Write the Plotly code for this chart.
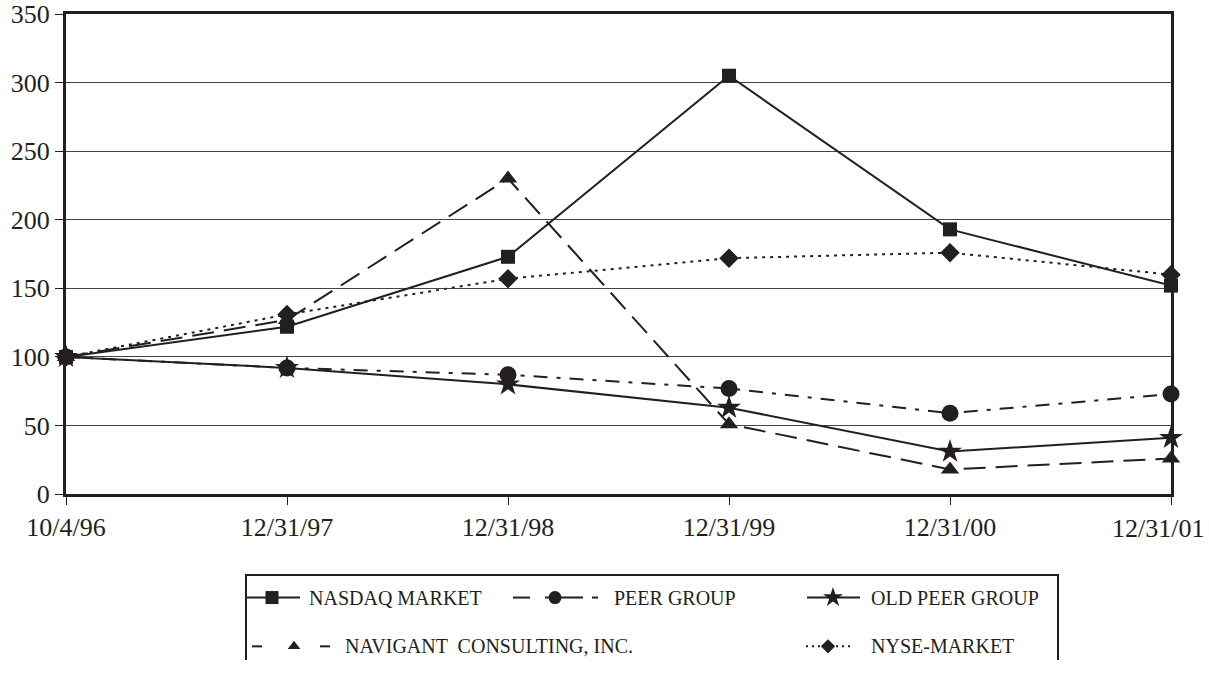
import plotly.graph_objects as go

dates = ["10/4/96", "12/31/97", "12/31/98", "12/31/99", "12/31/00", "12/31/01"]
nasdaq = [100, 122, 173, 305, 193, 152]
peer = [100, 92, 87, 77, 59, 73]
old_peer = [100, 92, 80, 63, 31, 41]
navigant = [100, 127, 230, 51, 18, 26]
nyse = [100, 131, 157, 172, 176, 160]

xs = list(range(len(dates)))
# the last label is drawn separately, nudged left to stay inside the page as in the reference
tick_text = dates[:-1] + [""]
FONT = "Liberation Serif"
INK = "#231f20"

fig = go.Figure()

series = [
    ("NASDAQ MARKET", nasdaq, "solid", "square", 14),
    ("PEER GROUP", peer, "14px,9px,4px,9px", "circle", 17),
    ("OLD PEER GROUP", old_peer, "solid", "star", 18),
    ("NAVIGANT  CONSULTING, INC.", navigant, "22px,10px", "triangle-up", 16),
    ("NYSE-MARKET", nyse, "3px,5px", "diamond", 15),
]
for name, vals, dash, sym, size in series:
    fig.add_trace(go.Scatter(
        x=xs, y=vals, mode="lines+markers", name=name,
        line=dict(color=INK, width=2, dash=dash),
        marker=dict(symbol=sym, size=size, color=INK),
        cliponaxis=False, showlegend=False, xaxis="x", yaxis="y"))

fig.add_annotation(x=1.0, y=(675 - 540) / 662, xref="paper", yref="paper", text=dates[-1],
                   showarrow=False, xanchor="right", yanchor="middle", borderpad=0,
                   xshift=34, font=dict(family=FONT, size=26, color=INK))

# ---- manual legend (helper axes measured in page pixels) ----
R1, R2 = 611, 661
legend_items = [
    # (line segments x, marker x, row y, symbol, size, label x, label)
    ([247, 300], 272, R1, "square", 13, 308, "NASDAQ MARKET"),
    ([513, 530, None, 545, 583, None, 592, 598], 555, R1, "circle", 13, 613, "PEER GROUP"),
    ([807, 860], 833, R1, "star", 15, 870, "OLD PEER GROUP"),
    ([252, 262, None, 320, 330], 294, R2, "triangle-up", 11, 344, "NAVIGANT  CONSULTING, INC."),
    ([806, 808, None, 812, 814, None, 818, 820, None, 836, 838, None, 842, 844, None, 848, 850],
     828, R2, "diamond", 11, 870, "NYSE-MARKET"),
]
for segs, xm, yy, sym, size, lx, label in legend_items:
    fig.add_trace(go.Scatter(
        x=segs, y=[None if v is None else yy for v in segs], mode="lines",
        line=dict(color=INK, width=2), connectgaps=False,
        showlegend=False, xaxis="x2", yaxis="y2", hoverinfo="skip"))
    fig.add_trace(go.Scatter(
        x=[xm], y=[yy], mode="markers",
        marker=dict(symbol=sym, size=size, color=INK),
        showlegend=False, xaxis="x2", yaxis="y2", hoverinfo="skip", cliponaxis=False))
    fig.add_annotation(x=lx, y=yy, xref="x2", yref="y2", text=label,
                       showarrow=False, xanchor="left", yanchor="middle", borderpad=0,
                       font=dict(family=FONT, size=20, color=INK))

fig.add_shape(type="rect", xref="x2", yref="y2", x0=246, x1=1058, y0=588, y1=690,
              line=dict(color=INK, width=2), fillcolor="rgba(0,0,0,0)")

fig.update_layout(
    width=1209, height=675,
    margin=dict(l=66, r=38, t=13, b=0),
    paper_bgcolor="white", plot_bgcolor="white",
    font=dict(family=FONT, color=INK, size=26),
    xaxis=dict(
        domain=[0, 1], range=[0, 5], tickvals=xs, ticktext=tick_text,
        showgrid=False, zeroline=False, showline=True, linecolor=INK, linewidth=3,
        mirror=True, ticks="outside", ticklen=8, tickcolor=INK, tickwidth=1,
        ticklabeloverflow="allow",
        tickfont=dict(family=FONT, size=26, color=INK), anchor="y"),
    yaxis=dict(
        domain=[(675 - 505) / 662, 1], range=[0, 350], tickvals=list(range(0, 351, 50)),
        showgrid=True, gridcolor="#444444", gridwidth=1, zeroline=False,
        showline=True, linecolor=INK, linewidth=3, mirror=True,
        ticks="outside", ticklen=8, tickcolor=INK, tickwidth=1,
        ticklabeloverflow="allow",
        tickfont=dict(family=FONT, size=26, color=INK), anchor="x"),
    xaxis2=dict(domain=[0, 1], range=[66, 1171], visible=False, anchor="y2", fixedrange=True),
    yaxis2=dict(domain=[0, (675 - 505) / 662], range=[675, 505], visible=False,
                anchor="x2", fixedrange=True),
)

fig.write_html(
    "out.html",
    config={"displayModeBar": False},
    post_script="document.body.style.margin='0';document.body.style.overflow='hidden';",
)
